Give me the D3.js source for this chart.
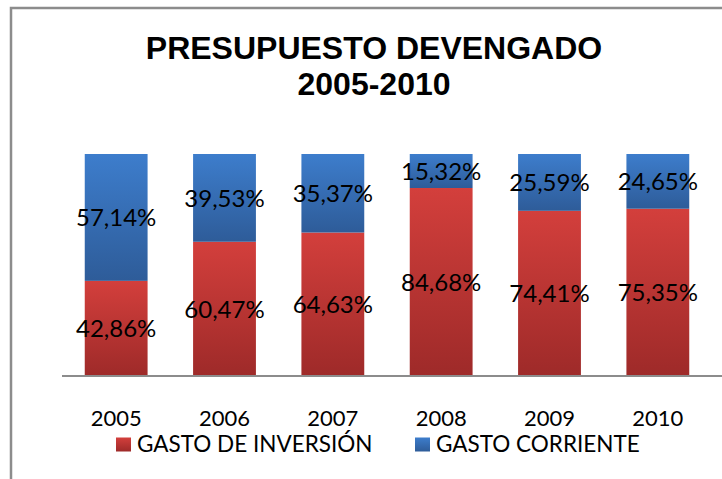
<!DOCTYPE html>
<html>
<head>
<meta charset="utf-8">
<script src="https://d3js.org/d3.v7.min.js"></script>
<style>
    body { margin: 0; background: #fff; }
    .value-label { font-family: Lato, "Open Sans", sans-serif; font-size: 24px; fill: #000; }
    .x-axis text { font-family: Lato, "Open Sans", sans-serif; font-size: 22px; fill: #000; }
    .legend text { font-family: Lato, "Open Sans", sans-serif; font-size: 22.5px; fill: #000; }
    .title { font-family: "Liberation Sans", Arial, sans-serif; font-weight: bold; font-size: 32px; fill: #000; }
</style>
</head>
<body>
<div id="chart"></div>
<script>

// Data
var years = ["2005", "2006", "2007", "2008", "2009", "2010"];
var gastoInversion = [42.86, 60.47, 64.63, 84.68, 74.41, 75.35];
var gastoCorriente = [57.14, 39.53, 35.37, 15.32, 25.59, 24.65];
var seriesNames = ["GASTO DE INVERSIÓN", "GASTO CORRIENTE"];
var titleLines = ["PRESUPUESTO DEVENGADO", "2005-2010"];

let width = 722,
    height = 479;

let svg = d3.select("#chart").append("svg")
    .attr("width", width)
    .attr("height", height);

// gradients (light on top, darker at the bottom of each segment)
let defs = svg.append("defs");
function addGradient(id, top, bottom) {
    let g = defs.append("linearGradient")
        .attr("id", id)
        .attr("x1", 0).attr("y1", 0)
        .attr("x2", 0).attr("y2", 1);
    g.append("stop").attr("offset", "0%").attr("stop-color", top);
    g.append("stop").attr("offset", "100%").attr("stop-color", bottom);
}
addGradient("gradRed", "#d33f3c", "#9e2a29");
addGradient("gradBlue", "#3d7dcc", "#2e5c99");

// outer frame (cut off on the right and bottom)
svg.append("rect")
    .attr("x", 11)
    .attr("y", 8)
    .attr("width", 900)
    .attr("height", 700)
    .attr("fill", "none")
    .attr("stroke", "#8c8c8c")
    .attr("stroke-width", 2.5);

// title
svg.selectAll("text.title")
    .data(titleLines)
    .enter()
    .append("text")
    .attr("class", "title")
    .attr("x", 374)
    .attr("y", (d, i) => i === 0 ? 58.5 : 95)
    .attr("text-anchor", "middle")
    .text(d => d);

// scales
let x = d3.scaleBand()
    .domain(years)
    .range([62, 712])
    .paddingInner(0.42)
    .paddingOuter(0.21);

let y = d3.scaleLinear()
    .domain([0, 100])
    .range([376, 154]);

let rows = years.map((yr, i) => ({
    year: yr,
    inversion: gastoInversion[i],
    corriente: gastoCorriente[i]
}));

let stack = d3.stack().keys(["inversion", "corriente"]);
let stacked = stack(rows);
let fills = ["url(#gradRed)", "url(#gradBlue)"];

let layers = svg.selectAll(".layer")
    .data(stacked)
    .enter()
    .append("g")
    .attr("class", "layer")
    .attr("fill", (d, i) => fills[i]);

layers.selectAll("rect")
    .data(d => d)
    .enter()
    .append("rect")
    .attr("x", d => x(d.data.year))
    .attr("y", d => y(d[1]))
    .attr("width", x.bandwidth())
    .attr("height", d => y(d[0]) - y(d[1]));

// value labels in the middle of each segment
layers.selectAll("text")
    .data(d => d.map(s => ({ s: s, key: d.key })))
    .enter()
    .append("text")
    .attr("class", "value-label")
    .attr("x", d => x(d.s.data.year) + x.bandwidth() / 2)
    .attr("y", d => y((d.s[0] + d.s[1]) / 2))
    .attr("dy", "0.36em")
    .attr("text-anchor", "middle")
    .text(d => d.s.data[d.key].toFixed(2).replace(".", ",") + "%");

// x axis
let xAxis = d3.axisBottom(x).tickSize(0).tickPadding(50);
let xAxisGroup = svg.append("g")
    .attr("class", "x-axis")
    .attr("transform", "translate(0,376)")
    .call(xAxis);
xAxisGroup.select(".domain").remove();
xAxisGroup.selectAll("text").attr("dy", "0");

svg.append("line")
    .attr("x1", 62)
    .attr("x2", 722)
    .attr("y1", 376)
    .attr("y2", 376)
    .attr("stroke", "#8c8c8c")
    .attr("stroke-width", 2);

// legend
let legendX = [116, 415];
let legend = svg.append("g").attr("class", "legend");
let items = legend.selectAll("g")
    .data(seriesNames)
    .enter()
    .append("g")
    .attr("transform", (d, i) => "translate(" + legendX[i] + ",0)");

items.append("rect")
    .attr("x", 0)
    .attr("y", 437.5)
    .attr("width", 15)
    .attr("height", 14)
    .attr("fill", (d, i) => fills[i]);

items.append("text")
    .attr("x", 21)
    .attr("y", 452)
    .text(d => d);

</script>
</body>
</html>
